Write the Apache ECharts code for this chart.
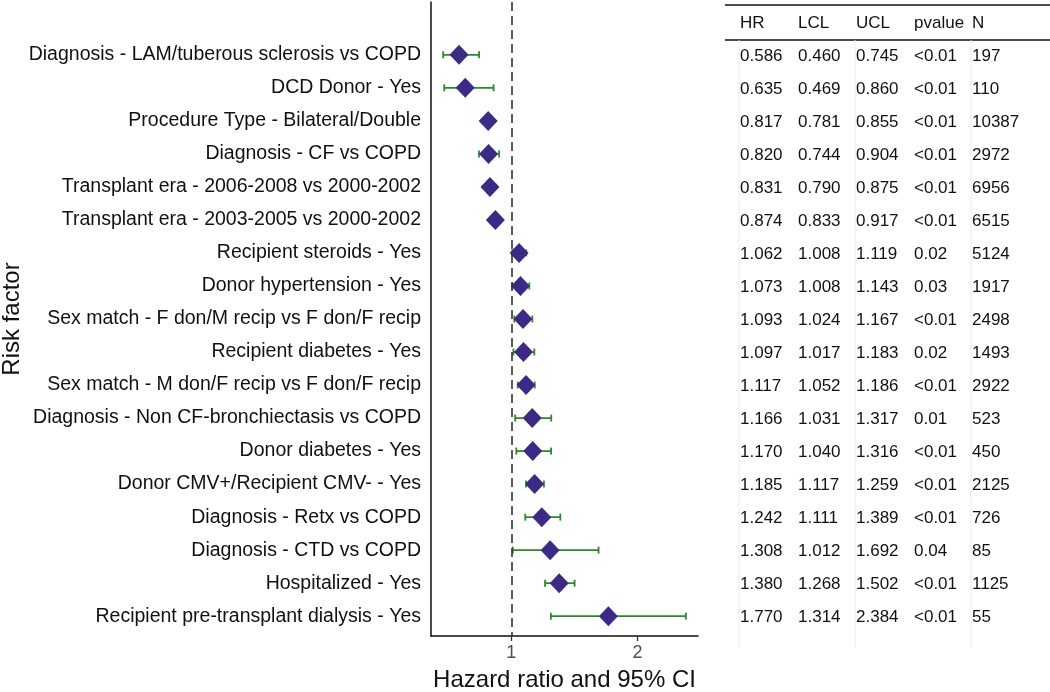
<!DOCTYPE html>
<html><head><meta charset="utf-8">
<script src="https://cdn.jsdelivr.net/npm/echarts@6/dist/echarts.min.js"></script>
<style>html,body{margin:0;padding:0;background:#fff}#c{width:1050px;height:692px}</style>
</head><body><div id="c"></div>
<script>
const factors = [
  'Diagnosis - LAM/tuberous sclerosis vs COPD',
  'DCD Donor - Yes',
  'Procedure Type - Bilateral/Double',
  'Diagnosis - CF vs COPD',
  'Transplant era - 2006-2008 vs 2000-2002',
  'Transplant era - 2003-2005 vs 2000-2002',
  'Recipient steroids - Yes',
  'Donor hypertension - Yes',
  'Sex match - F don/M recip vs F don/F recip',
  'Recipient diabetes - Yes',
  'Sex match - M don/F recip vs F don/F recip',
  'Diagnosis - Non CF-bronchiectasis vs COPD',
  'Donor diabetes - Yes',
  'Donor CMV+/Recipient CMV- - Yes',
  'Diagnosis - Retx vs COPD',
  'Diagnosis - CTD vs COPD',
  'Hospitalized - Yes',
  'Recipient pre-transplant dialysis - Yes'
];
const hr  = [0.586,0.635,0.817,0.820,0.831,0.874,1.062,1.073,1.093,1.097,1.117,1.166,1.170,1.185,1.242,1.308,1.380,1.770];
const lcl = [0.460,0.469,0.781,0.744,0.790,0.833,1.008,1.008,1.024,1.017,1.052,1.031,1.040,1.117,1.111,1.012,1.268,1.314];
const ucl = [0.745,0.860,0.855,0.904,0.875,0.917,1.119,1.143,1.167,1.183,1.186,1.317,1.316,1.259,1.389,1.692,1.502,2.384];
const pvalue = ['<0.01','<0.01','<0.01','<0.01','<0.01','<0.01','0.02','0.03','<0.01','0.02','<0.01','0.01','<0.01','<0.01','<0.01','0.04','<0.01','<0.01'];
const nObs = [197,110,10387,2972,6956,6515,5124,1917,2498,1493,2922,523,450,2125,726,85,1125,55];
const tableHeader = ['HR','LCL','UCL','pvalue','N'];
const xTicks = [1, 2];

const FONT = '"Liberation Sans", Arial, Helvetica, sans-serif';
const rows = factors.map((f, i) => i + 1);
const xMin = Math.min(...lcl), xMax = Math.max(...ucl);
const pad = (xMax - xMin) * 0.05;

// table cells: [col, row, text]
const cells = [];
tableHeader.forEach((h, c) => cells.push([c, 0, h]));
factors.forEach((f, i) => {
  const vals = [hr[i].toFixed(3), lcl[i].toFixed(3), ucl[i].toFixed(3), pvalue[i], String(nObs[i])];
  vals.forEach((v, c) => cells.push([c, i + 1, v]));
});

const chart = echarts.init(document.getElementById('c'), null, {renderer: 'canvas'});
chart.setOption({
  animation: false,
  backgroundColor: '#fff',
  textStyle: {fontFamily: FONT},
  grid: [
    {left: 431, right: 352, top: 2, bottom: 56, outerBoundsMode: 'none', containLabel: false},
    {left: 736, width: 290, top: 2, bottom: 56, outerBoundsMode: 'none', containLabel: false}
  ],
  xAxis: [
    {
      gridIndex: 0, type: 'value', min: xMin - pad, max: xMax + pad,
      name: 'Hazard ratio and 95% CI', nameLocation: 'middle', nameGap: 32,
      nameTextStyle: {fontSize: 24, color: '#111', fontFamily: FONT},
      axisLine: {show: true, onZero: false, lineStyle: {color: '#111', width: 1.5}},
      axisTick: {show: true, length: 5, customValues: xTicks, lineStyle: {color: '#333', width: 1.3}},
      axisLabel: {customValues: xTicks, color: '#4d4d4d', fontSize: 18, margin: 8, fontFamily: FONT},
      splitLine: {show: false}
    },
    {
      gridIndex: 1, type: 'category', data: tableHeader, show: false
    }
  ],
  yAxis: [
    {
      gridIndex: 0, type: 'value', min: -0.6, max: rows.length + 0.6, inverse: true,
      name: 'Risk factor', nameLocation: 'middle', nameRotate: 90, nameGap: 400,
      nameTextStyle: {fontSize: 24, color: '#111', fontFamily: FONT},
      axisLine: {show: true, onZero: false, lineStyle: {color: '#111', width: 1.5}},
      axisTick: {show: false},
      axisLabel: {
        customValues: rows, color: '#111', fontSize: 19.5, margin: 10, fontFamily: FONT,
        padding: [4, 0, 0, 0],
        formatter: v => factors[Math.round(v) - 1] || ''
      },
      splitLine: {show: false}
    },
    {
      gridIndex: 1, type: 'value', min: -0.6, max: rows.length + 0.6, inverse: true, show: false
    }
  ],
  graphic: [
    {type: 'line', shape: {x1: 725, y1: 5, x2: 1050, y2: 5}, style: {stroke: '#111', lineWidth: 1.5}},
    {type: 'line', shape: {x1: 725, y1: 40, x2: 1050, y2: 40}, style: {stroke: '#111', lineWidth: 1.5}}
  ],
  series: [
    {
      type: 'custom', xAxisIndex: 0, yAxisIndex: 0, z: 2,
      data: factors.map((f, i) => [lcl[i], ucl[i], i + 1]),
      encode: {x: [0, 1], y: 2},
      renderItem: (params, api) => {
        const p1 = api.coord([api.value(0), api.value(2)]);
        const p2 = api.coord([api.value(1), api.value(2)]);
        const st = {stroke: '#2a8a2a', lineWidth: 1.8};
        return {type: 'group', children: [
          {type: 'line', shape: {x1: p1[0], y1: p1[1], x2: p2[0], y2: p2[1]}, style: st},
          {type: 'line', shape: {x1: p1[0], y1: p1[1] - 3.5, x2: p1[0], y2: p1[1] + 3.5}, style: st},
          {type: 'line', shape: {x1: p2[0], y1: p2[1] - 3.5, x2: p2[0], y2: p2[1] + 3.5}, style: st}
        ]};
      }
    },
    {
      type: 'scatter', xAxisIndex: 0, yAxisIndex: 0, z: 3,
      data: factors.map((f, i) => [hr[i], i + 1]),
      symbol: 'diamond', symbolSize: [19, 20],
      itemStyle: {color: '#3b2a86', opacity: 1},
      markLine: {
        silent: true, symbol: 'none', label: {show: false},
        lineStyle: {color: '#333', type: [9, 5], width: 1.6},
        data: [{xAxis: 1}]
      }
    },
    {
      type: 'custom', xAxisIndex: 1, yAxisIndex: 1, z: 1,
      data: [0, 2, 4].map(c => [c]),
      renderItem: (params, api) => {
        const c = api.value(0);
        const top = api.coord([c, 0.55]);
        const bw = api.size([1, 0])[0];
        const x = top[0] - bw / 2 + 3;
        return {type: 'line', shape: {x1: x, y1: top[1], x2: x, y2: top[1] + 608}, style: {stroke: '#ececec', lineWidth: 1}};
      }
    },
    {
      type: 'custom', xAxisIndex: 1, yAxisIndex: 1, z: 4,
      data: cells,
      encode: {x: 0, y: 1},
      renderItem: (params, api) => {
        const p = api.coord([api.value(0), api.value(1)]);
        const bw = api.size([1, 0])[0];
        return {type: 'text', x: p[0] - bw / 2 + 4, y: p[1] + 1,
          style: {text: cells[params.dataIndex][2], fill: '#111', fontSize: 17, fontFamily: FONT,
                  align: 'left', verticalAlign: 'middle'}};
      }
    }
  ]
});
</script>
</body></html>
